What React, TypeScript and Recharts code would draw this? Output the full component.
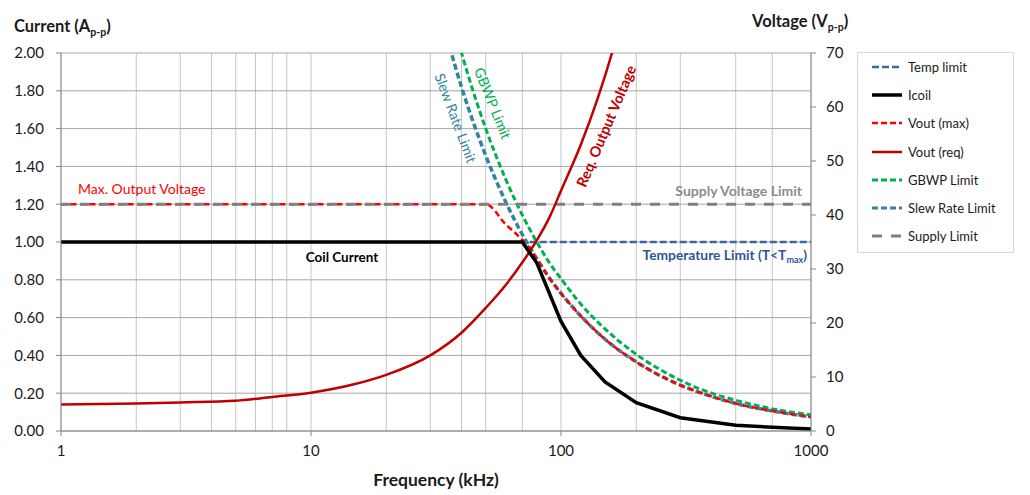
import React from "react";
import { LineChart, Line, XAxis, YAxis, CartesianGrid } from "recharts";

const FONT = "Lato, 'Open Sans', sans-serif";

// axis ticks
const decadeTicks = [1, 10, 100, 1000];
const gridFreqs = [1, 2, 3, 4, 5, 6, 7, 8, 9, 10, 20, 30, 40, 50, 60, 70, 80, 90, 100, 200, 300, 400, 500, 600, 700, 800, 900, 1000];
const currentTicks = [0, 0.2, 0.4, 0.6, 0.8, 1.0, 1.2, 1.4, 1.6, 1.8, 2.0];
const voltageTicks = [0, 10, 20, 30, 40, 50, 60, 70];

// current series (A p-p)
const tempFreq = [75, 1000];
const tempAmps = [1.0, 1.0];

const coilFreq = [1, 70, 80, 100, 120, 150, 200, 300, 500, 1000];
const coilAmps = [1.0, 1.0, 0.89, 0.58, 0.4, 0.26, 0.15, 0.07, 0.03, 0.01];

// voltage series (V p-p)
const voutMaxFreq = [1, 50, 60, 70, 75, 80, 90, 100, 120, 150, 200, 300, 400, 500, 700, 1000];
const voutMaxVolts = [42, 42, 38.3, 35.4, 33.8, 31.9, 28.3, 25.5, 21.3, 17.0, 12.8, 8.5, 6.4, 5.1, 3.7, 2.6];

const voutReqFreq = [1, 2, 3, 5, 7, 10, 15, 20, 30, 40, 50, 60, 70, 80, 90, 100, 120, 140, 160, 170];
const voutReqVolts = [4.9, 5.1, 5.3, 5.6, 6.3, 7.1, 8.7, 10.4, 14.0, 18.2, 22.8, 27.0, 31.2, 35.3, 39.6, 44.5, 53.0, 61.5, 70.0, 74.3];

const gbwpFreq = [38, 40, 50, 60, 70, 80, 90, 100, 120, 150, 200, 300, 400, 500, 700, 1000];
const gbwpVolts = [73.6, 70.0, 56.0, 46.7, 40.0, 35.0, 31.1, 28.2, 23.5, 18.9, 14.2, 9.4, 7.0, 5.7, 4.1, 3.0];

const slewFreq = [35, 40, 50, 60, 70, 80, 90, 100, 120, 150, 200, 300, 400, 500, 700, 1000];
const slewVolts = [72.8, 63.7, 51.0, 42.5, 36.4, 31.9, 28.3, 25.5, 21.3, 17.0, 12.8, 8.5, 6.4, 5.1, 3.7, 2.6];

const supplyFreq = [1, 1000];
const supplyVolts = [42, 42];

const toPoints = (f: number[], v: number[]) => f.map((x, i) => ({ f: x, v: v[i] }));

const COLORS = {
  temp: "#3B68A0",
  coil: "#000000",
  voutMax: "#FF0000",
  voutReq: "#C00000",
  gbwp: "#00B050",
  slew: "#31859C",
  supply: "#808080",
};

const legendItems = [
  { name: "Temp limit", color: COLORS.temp, dash: "7 3", width: 2.5 },
  { name: "Icoil", color: COLORS.coil, dash: undefined, width: 3.5 },
  { name: "Vout (max)", color: COLORS.voutMax, dash: "6 3", width: 2.5 },
  { name: "Vout (req)", color: COLORS.voutReq, dash: undefined, width: 2.5 },
  { name: "GBWP Limit", color: COLORS.gbwp, dash: "6 3", width: 3 },
  { name: "Slew Rate Limit", color: COLORS.slew, dash: "6 3", width: 3 },
  { name: "Supply Limit", color: COLORS.supply, dash: "10 9", width: 3 },
];

const tickStyle = { fill: "#1a1a1a", fontSize: 15, fontFamily: FONT };

function ChartLegend() {
  return (
    <div
      style={{
        position: "absolute",
        left: 857,
        top: 52,
        width: 155,
        height: 199,
        border: "1px solid #d9d9d9",
        background: "#fff",
        fontFamily: FONT,
        fontSize: 13,
        color: "#1a1a1a",
      }}
    >
      {legendItems.map((item, i) => (
        <div
          key={item.name}
          style={{ position: "absolute", left: 13, top: 5 + i * 28.2, height: 18, display: "flex", alignItems: "center" }}
        >
          <svg width={32} height={10} style={{ display: "block" }}>
            <line x1={1} y1={5} x2={31} y2={5} stroke={item.color} strokeWidth={item.width} strokeDasharray={item.dash} />
          </svg>
          <span style={{ marginLeft: 5, whiteSpace: "nowrap" }}>{item.name}</span>
        </div>
      ))}
    </div>
  );
}

function Annotations() {
  return (
    <svg width={1030} height={495} style={{ position: "absolute", left: 0, top: 0, pointerEvents: "none" }}>
      <g fontFamily={FONT}>
        <text x={14} y={31.5} fontSize={16.5} fontWeight="bold" fill="#1a1a1a">
          Current (A<tspan fontSize={10.5} dy={4}>p-p</tspan><tspan dy={-4}>)</tspan>
        </text>
        <text x={752} y={26.5} fontSize={16.5} fontWeight="bold" fill="#1a1a1a">
          Voltage (V<tspan fontSize={10.5} dy={4}>p-p</tspan><tspan dy={-4}>)</tspan>
        </text>
        <text x={436} y={486} fontSize={17.5} fontWeight="bold" fill="#1a1a1a" textAnchor="middle">
          Frequency (kHz)
        </text>

        <text x={78} y={194} fontSize={14} fill={COLORS.voutMax}>
          Max. Output Voltage
        </text>
        <text x={802} y={196} fontSize={14} fontWeight="bold" fill="#8c8c8c" textAnchor="end">
          Supply Voltage Limit
        </text>
        <text x={807} y={260} fontSize={13.8} fontWeight="bold" fill="#2F5597" textAnchor="end">
          Temperature Limit (T&lt;T<tspan fontSize={9} dy={3}>max</tspan><tspan dy={-3}>)</tspan>
        </text>
        <text x={342} y={262} fontSize={13.5} fontWeight="bold" fill="#000" textAnchor="middle">
          Coil Current
        </text>

        <text
          x={456}
          y={118}
          fontSize={14}
          fill={COLORS.slew}
          textAnchor="middle"
          dominantBaseline="central"
          transform="rotate(69.5 456 118)"
        >
          Slew Rate Limit
        </text>
        <text
          x={493}
          y={103}
          fontSize={14}
          fill={COLORS.gbwp}
          textAnchor="middle"
          dominantBaseline="central"
          transform="rotate(68 493 103)"
        >
          GBWP Limit
        </text>
        <text
          x={606}
          y={126}
          fontSize={14.5}
          fontWeight="bold"
          fill={COLORS.voutReq}
          textAnchor="middle"
          dominantBaseline="central"
          transform="rotate(-67 606 126)"
        >
          Req. Output Voltage
        </text>
      </g>
    </svg>
  );
}

export default function App() {
  return (
    <div style={{ position: "absolute", left: 0, top: 0, width: 1030, height: 495, background: "#fff" }}>
      <LineChart width={1030} height={495} margin={{ top: 53, right: 159, bottom: 24, left: 0 }}>
        <CartesianGrid xAxisId="grid" yAxisId="amps" horizontal={false} stroke="#c6c6c6" />
        <CartesianGrid xAxisId="freq" yAxisId="amps" vertical={false} stroke="#a6a6a6" />
        <XAxis
          xAxisId="grid"
          dataKey="f"
          type="number"
          scale="log"
          domain={[1, 1000]}
          allowDataOverflow
          ticks={gridFreqs}
          hide
        />
        <XAxis
          xAxisId="freq"
          dataKey="f"
          type="number"
          scale="log"
          domain={[1, 1000]}
          allowDataOverflow
          ticks={decadeTicks}
          interval={0}
          height={40}
          tickSize={5}
          tickMargin={9}
          stroke="#868686"
          tick={tickStyle}
        />
        <YAxis
          yAxisId="amps"
          domain={[0, 2]}
          ticks={currentTicks}
          interval={0}
          tickFormatter={(v: number) => v.toFixed(2)}
          width={61}
          tickSize={5}
          tickMargin={12}
          stroke="#868686"
          tick={tickStyle}
        />
        <YAxis
          yAxisId="volts"
          orientation="right"
          domain={[0, 70]}
          allowDataOverflow
          ticks={voltageTicks}
          interval={0}
          width={60}
          tickSize={5}
          tickMargin={10}
          stroke="#868686"
          tick={tickStyle}
        />

        <Line
          xAxisId="freq"
          yAxisId="amps"
          data={toPoints(tempFreq, tempAmps)}
          dataKey="v"
          name="Temp limit"
          stroke={COLORS.temp}
          strokeWidth={2.5}
          strokeDasharray="7 3"
          dot={false}
          isAnimationActive={false}
        />
        <Line
          xAxisId="freq"
          yAxisId="volts"
          data={toPoints(gbwpFreq, gbwpVolts)}
          dataKey="v"
          name="GBWP Limit"
          type="monotone"
          stroke={COLORS.gbwp}
          strokeWidth={3}
          strokeDasharray="6 3"
          dot={false}
          isAnimationActive={false}
        />
        <Line
          xAxisId="freq"
          yAxisId="volts"
          data={toPoints(slewFreq, slewVolts)}
          dataKey="v"
          name="Slew Rate Limit"
          type="monotone"
          stroke={COLORS.slew}
          strokeWidth={3.5}
          strokeDasharray="6 3"
          dot={false}
          isAnimationActive={false}
        />
        <Line
          xAxisId="freq"
          yAxisId="volts"
          data={toPoints(voutMaxFreq, voutMaxVolts)}
          dataKey="v"
          name="Vout (max)"
          type="monotone"
          stroke={COLORS.voutMax}
          strokeWidth={2.5}
          strokeDasharray="6 3.5"
          dot={false}
          isAnimationActive={false}
        />
        <Line
          xAxisId="freq"
          yAxisId="volts"
          data={toPoints(supplyFreq, supplyVolts)}
          dataKey="v"
          name="Supply Limit"
          stroke={COLORS.supply}
          strokeWidth={3}
          strokeDasharray="10 9"
          dot={false}
          isAnimationActive={false}
        />
        <Line
          xAxisId="freq"
          yAxisId="volts"
          data={toPoints(voutReqFreq, voutReqVolts)}
          dataKey="v"
          name="Vout (req)"
          type="monotone"
          stroke={COLORS.voutReq}
          strokeWidth={2.5}
          dot={false}
          isAnimationActive={false}
        />
        <Line
          xAxisId="freq"
          yAxisId="amps"
          data={toPoints(coilFreq, coilAmps)}
          dataKey="v"
          name="Icoil"
          stroke={COLORS.coil}
          strokeWidth={3.5}
          dot={false}
          isAnimationActive={false}
        />
      </LineChart>
      <Annotations />
      <ChartLegend />
    </div>
  );
}
